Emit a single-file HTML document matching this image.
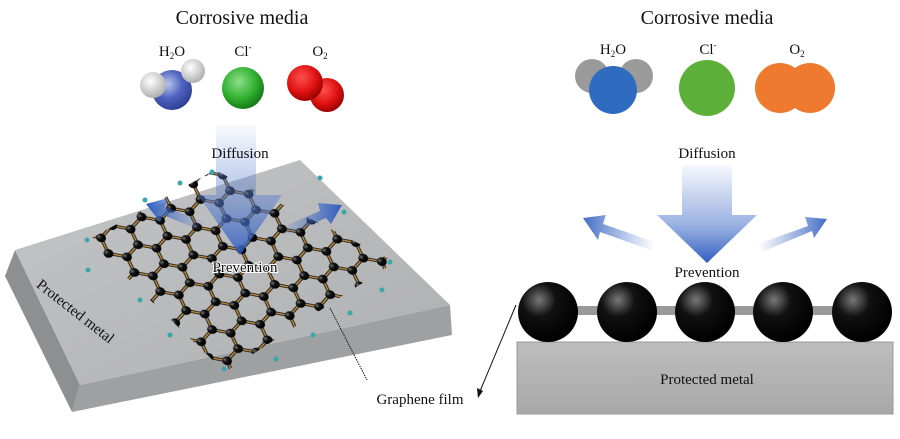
<!DOCTYPE html>
<html><head><meta charset="utf-8"><style>
body{margin:0;background:#fff}
svg{display:block}
text{font-family:"Liberation Serif",serif;fill:#111}
</style></head><body>
<svg width="900" height="439" viewBox="0 0 900 439" xmlns="http://www.w3.org/2000/svg">
<defs>
<radialGradient id="gB" cx="0.4" cy="0.35" r="0.7"><stop offset="0" stop-color="#b8c4ee"/><stop offset="0.5" stop-color="#5064c0"/><stop offset="1" stop-color="#2a3a90"/></radialGradient>
<radialGradient id="gW" cx="0.4" cy="0.35" r="0.7"><stop offset="0" stop-color="#fff"/><stop offset="1" stop-color="#aaa"/></radialGradient>
<radialGradient id="gG" cx="0.4" cy="0.35" r="0.7"><stop offset="0" stop-color="#8ee08a"/><stop offset="0.6" stop-color="#2eae2e"/><stop offset="1" stop-color="#127012"/></radialGradient>
<radialGradient id="gR" cx="0.4" cy="0.35" r="0.7"><stop offset="0" stop-color="#ff5050"/><stop offset="0.6" stop-color="#dd1010"/><stop offset="1" stop-color="#900000"/></radialGradient>
<radialGradient id="gK" cx="0.35" cy="0.3" r="0.7"><stop offset="0" stop-color="#777"/><stop offset="0.4" stop-color="#111"/><stop offset="1" stop-color="#000"/></radialGradient>
<linearGradient id="top" x1="0" y1="0" x2="1" y2="1"><stop offset="0" stop-color="#c4c5c7"/><stop offset="1" stop-color="#aeafb1"/></linearGradient>
<linearGradient id="dn" x1="0" y1="0" x2="0" y2="1"><stop offset="0" stop-color="#5a7fd0" stop-opacity="0.05"/><stop offset="0.6" stop-color="#5a7fd0" stop-opacity="0.6"/><stop offset="1" stop-color="#2f5cc0"/></linearGradient>
<linearGradient id="sl" x1="1" y1="0" x2="0" y2="0"><stop offset="0" stop-color="#4a72c8" stop-opacity="0"/><stop offset="1" stop-color="#2f5cc0"/></linearGradient>
<linearGradient id="sr" x1="0" y1="0" x2="1" y2="0"><stop offset="0" stop-color="#4a72c8" stop-opacity="0"/><stop offset="1" stop-color="#2f5cc0"/></linearGradient>
<linearGradient id="metal" x1="0" y1="0" x2="0" y2="1"><stop offset="0" stop-color="#bdbdbd"/><stop offset="1" stop-color="#a8a8a8"/></linearGradient>
<pattern id="hex" width="20.78" height="36" patternUnits="userSpaceOnUse" patternTransform="matrix(1.42,-0.42,0.62,1.3,90,250)">
<g stroke="#111" stroke-width="2.2" fill="none">
<path d="M10.39,0V6L20.78,12V24L10.39,30V36M10.39,6L0,12V24L10.39,30"/>
</g>
<g stroke="#c09040" stroke-width="1" fill="none">
<path d="M10.39,0V6L20.78,12V24L10.39,30V36M10.39,6L0,12V24L10.39,30"/>
</g>
<g fill="url(#gK)"><circle cx="10.39" cy="6" r="3.2"/><circle cx="20.78" cy="12" r="3.2"/><circle cx="20.78" cy="24" r="3.2"/><circle cx="10.39" cy="30" r="3.2"/><circle cx="0" cy="12" r="3.2"/><circle cx="0" cy="24" r="3.2"/></g>
</pattern>
<clipPath id="lat"><polygon points="88,240 215,170 395,262 225,372"/></clipPath>
</defs>

<!-- LEFT PANEL slab -->
<polygon points="15,250 5,276 72,412 80,385" fill="#8e8f91"/>
<polygon points="80,385 72,412 452,335 450,305" fill="#9fa0a2"/>
<polygon points="15,250 300,160 450,305 80,385" fill="url(#top)"/>
<rect x="0" y="0" width="900" height="439" fill="url(#hex)" clip-path="url(#lat)"/>
<g fill="#3aa8a8"><circle cx="87" cy="240" r="2.5"/><circle cx="145" cy="200" r="2.5"/><circle cx="180" cy="183" r="2.5"/><circle cx="212" cy="172" r="2.5"/><circle cx="320" cy="178" r="2.5"/><circle cx="344" cy="212" r="2.5"/><circle cx="390" cy="262" r="2.5"/><circle cx="382" cy="290" r="2.5"/><circle cx="350" cy="313" r="2.5"/><circle cx="313" cy="335" r="2.5"/><circle cx="276" cy="359" r="2.5"/><circle cx="224" cy="369" r="2.5"/><circle cx="170" cy="335" r="2.5"/><circle cx="140" cy="300" r="2.5"/><circle cx="88" cy="270" r="2.5"/></g>
<text x="75" y="316" font-size="15" text-anchor="middle" transform="rotate(38 75 312)">Protected metal</text>

<!-- left arrows -->
<polygon points="216,125 256,125 256,195 282,195 240,255 198,195 216,195" fill="url(#dn)" opacity="0.85"/>
<polygon points="205,222 165,207 168,198 146,204 160,222 163,215 202,231" fill="url(#sl)"/>
<polygon points="280,228 320,211 318,203 342,205 331,224 326,218 284,236" fill="url(#sr)"/>
<text x="240" y="158" font-size="15" text-anchor="middle">Diffusion</text>
<text x="245" y="272" font-size="15" text-anchor="middle" style="paint-order:stroke" stroke="#fff" stroke-width="2">Prevention</text>

<!-- top left labels & molecules -->
<text x="242" y="24" font-size="20" text-anchor="middle">Corrosive media</text>
<text x="172" y="56" font-size="15" text-anchor="middle">H<tspan font-size="9" dy="3">2</tspan><tspan dy="-3">O</tspan></text>
<text x="243" y="56" font-size="15" text-anchor="middle">Cl<tspan font-size="9" dy="-6">-</tspan></text>
<text x="320" y="56" font-size="15" text-anchor="middle">O<tspan font-size="9" dy="3">2</tspan></text>
<circle cx="172" cy="90" r="20" fill="url(#gB)"/>
<circle cx="153" cy="85" r="13" fill="url(#gW)"/>
<circle cx="193" cy="71" r="12" fill="url(#gW)"/>
<circle cx="243" cy="88" r="21" fill="url(#gG)"/>
<circle cx="327" cy="95" r="17" fill="url(#gR)"/>
<circle cx="305" cy="83" r="18" fill="url(#gR)"/>

<!-- Graphene film label -->
<text x="420" y="404" font-size="15" text-anchor="middle">Graphene film</text>
<path d="M330,308 L367,380" stroke="#111" stroke-width="1" stroke-dasharray="1.5,1"/>
<path d="M516,305 L478,396" stroke="#111" stroke-width="1"/>
<polygon points="478,398 477,388 483,391" fill="#111"/>

<!-- RIGHT PANEL -->
<text x="707" y="24" font-size="20" text-anchor="middle">Corrosive media</text>
<text x="613" y="54" font-size="15" text-anchor="middle">H<tspan font-size="9" dy="3">2</tspan><tspan dy="-3">O</tspan></text>
<text x="708" y="54" font-size="15" text-anchor="middle">Cl<tspan font-size="9" dy="-6">-</tspan></text>
<text x="797" y="54" font-size="15" text-anchor="middle">O<tspan font-size="9" dy="3">2</tspan></text>
<circle cx="592" cy="76" r="17" fill="#9a9a9a"/>
<circle cx="636" cy="76" r="17" fill="#9a9a9a"/>
<circle cx="613" cy="90" r="24" fill="#2f6cc0"/>
<circle cx="707" cy="88" r="28" fill="#5cb03a"/>
<circle cx="780" cy="88" r="25" fill="#ee7a30"/>
<circle cx="810" cy="88" r="25" fill="#ee7a30"/>

<polygon points="682,165 732,165 732,215 757,215 707,263 657,215 682,215" fill="url(#dn)"/>
<polygon points="655,242 603,224 606,215 583,218 598,240 600,232 651,250" fill="url(#sl)" opacity="0.9"/>
<polygon points="758,244 808,226 805,217 827,219 814,238 812,231 762,252" fill="url(#sr)" opacity="0.9"/>
<text x="707" y="158" font-size="15" text-anchor="middle">Diffusion</text>
<text x="707" y="277" font-size="15" text-anchor="middle">Prevention</text>

<rect x="517" y="342" width="376" height="72" fill="url(#metal)" stroke="#999"/>
<text x="707" y="384" font-size="15" text-anchor="middle">Protected metal</text>
<rect x="548" y="306" width="314" height="9" fill="#999"/>
<g fill="url(#gK)"><circle cx="548" cy="312" r="30"/><circle cx="627" cy="312" r="30"/><circle cx="705" cy="312" r="30"/><circle cx="783" cy="312" r="30"/><circle cx="862" cy="312" r="30"/></g>
</svg>
</body></html>
